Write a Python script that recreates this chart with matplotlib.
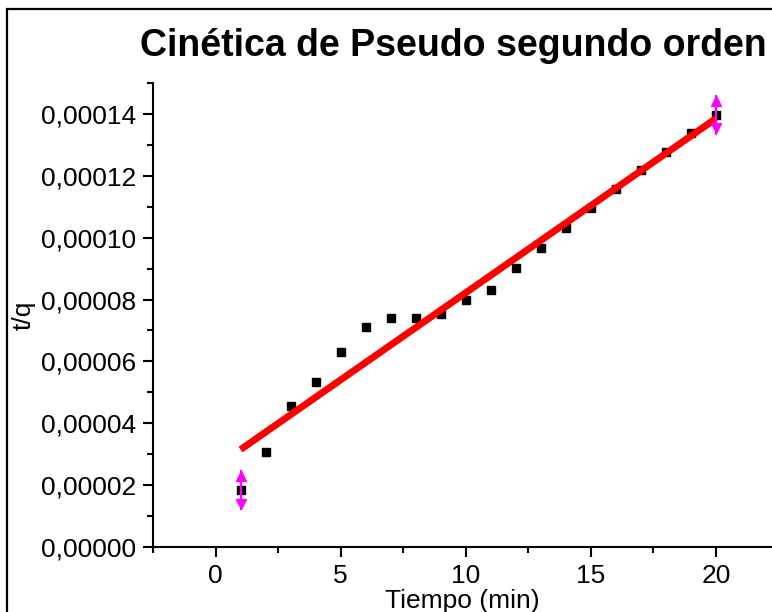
import matplotlib
matplotlib.use("Agg")
import matplotlib.pyplot as plt
from matplotlib.patches import Rectangle
from matplotlib.ticker import MultipleLocator, FuncFormatter, FixedLocator

plt.rcParams['font.family'] = ['Liberation Sans', 'DejaVu Sans']

# Data
tiempo = [1, 2, 3, 4, 5, 6, 7, 8, 9, 10, 11, 12, 13, 14, 15, 16, 17, 18, 19, 20]
t_q = [1.84e-5, 3.07e-5, 4.56e-5, 5.33e-5, 6.30e-5, 7.11e-5, 7.40e-5, 7.40e-5,
       7.53e-5, 7.99e-5, 8.31e-5, 9.02e-5, 9.67e-5, 1.031e-4, 1.096e-4, 1.157e-4,
       1.219e-4, 1.277e-4, 1.338e-4, 1.397e-4]
fit_x = [1, 20]
fit_y = [3.15e-5, 1.385e-4]
err_x = [1, 20]
err_y = [1.84e-5, 1.397e-4]
err_val = [6.2e-6, 6.2e-6]
x_ticks = [0, 5, 10, 15, 20]

W, H = 772, 612
fig = plt.figure(figsize=(W / 100, H / 100), dpi=100)
ax = fig.add_axes([153 / W, 65 / H, (841 - 153) / W, (547 - 83) / H])

ax.plot(tiempo, t_q, linestyle='none', marker='s', markersize=5.2,
        color='black', zorder=2)
ax.plot(fit_x, fit_y, color='#ff0000', linewidth=5, solid_capstyle='butt', zorder=3)

for x, y, e in zip(err_x, err_y, err_val):
    ax.plot([x, x], [y - e, y + e], color='#ff00ff', linewidth=1.5, zorder=4)
    ax.plot([x], [y + e - 1.8e-6], marker='^', markersize=7, color='#ff00ff',
            linestyle='none', zorder=4)
    ax.plot([x], [y - e + 1.8e-6], marker='v', markersize=7, color='#ff00ff',
            linestyle='none', zorder=4)

ax.set_xlim(-2.5, 25)
ax.set_ylim(0, 0.00015)
ax.xaxis.set_major_locator(FixedLocator(x_ticks))
ax.xaxis.set_minor_locator(MultipleLocator(2.5))
ax.yaxis.set_major_locator(MultipleLocator(0.00002))
ax.yaxis.set_minor_locator(MultipleLocator(0.00001))
ax.yaxis.set_major_formatter(FuncFormatter(lambda v, p: f"{v:.5f}".replace('.', ',')))
ax.xaxis.set_major_formatter(FuncFormatter(lambda v, p: f"{v:g}"))

for s in ['top', 'right']:
    ax.spines[s].set_visible(False)
for s in ['left', 'bottom']:
    ax.spines[s].set_linewidth(1.5)
ax.tick_params(which='major', length=7, width=1.5, direction='out', labelsize=19, pad=5)
ax.tick_params(which='minor', length=4, width=1.5, direction='out')

fig.text(462 / W, 1 - 601 / H, 'Tiempo (min)', fontsize=19, ha='center', va='center')
fig.text(24 / W, 1 - 315 / H, 't/q', fontsize=19, ha='center', va='center', rotation=90)

fig.text(453 / W, 1 - 46 / H, 'Cinética de Pseudo segundo orden', fontsize=27,
         fontweight='bold', ha='center', va='center')

fig.add_artist(Rectangle((7 / W, -0.5), 2, 0.5 + (H - 9) / H, transform=fig.transFigure,
                         fill=False, edgecolor='black', linewidth=1.6, clip_on=False))

fig.savefig('out.png', dpi=100)
